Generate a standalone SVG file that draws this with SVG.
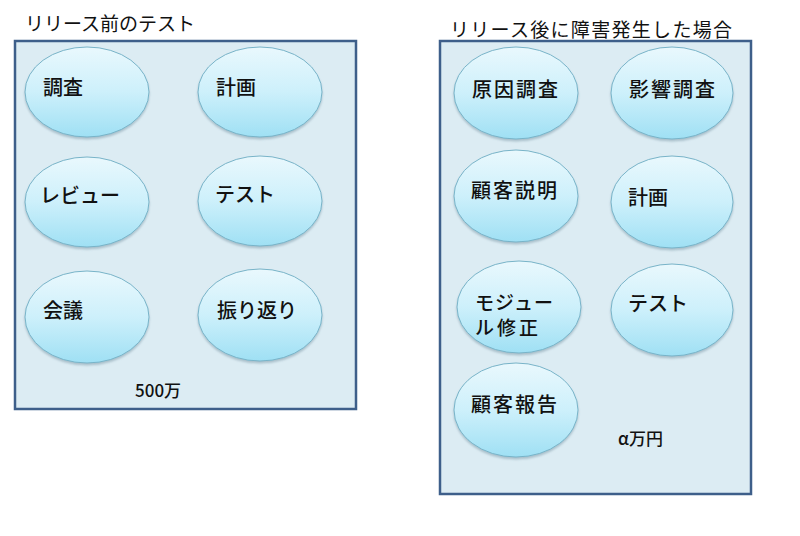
<svg xmlns="http://www.w3.org/2000/svg" width="800" height="536" viewBox="0 0 800 536">
<defs>
<linearGradient id="eg" x1="0" y1="0" x2="0" y2="1">
<stop offset="0" stop-color="#e9f8fd"/>
<stop offset="0.5" stop-color="#cdf0fb"/>
<stop offset="1" stop-color="#9fe0f4"/>
</linearGradient>
<filter id="sh" x="-10%" y="-10%" width="120%" height="130%">
<feDropShadow dx="0" dy="2" stdDeviation="1.2" flood-color="#6a8a99" flood-opacity="0.45"/>
</filter>
</defs>
<style>
.box{fill:#dcecf3;stroke:#3e5f8a;stroke-width:2.5}
.el{fill:url(#eg);stroke:#78b3c8;stroke-width:1;filter:url(#sh)}
text{font-family:"Noto Sans CJK JP","Noto Sans",sans-serif;fill:#111}
.t{font-size:20px;font-weight:500}
.h{font-size:19px}
.c{font-size:17px;font-weight:500}
</style>
<rect width="800" height="536" fill="#ffffff"/>
<g id="left-panel">
<text class="h" x="25" y="31" textLength="170">リリース前のテスト</text>
<rect class="box" x="15" y="41" width="341" height="368"/>
</g>
<g id="right-panel">
<text class="h" x="450" y="37" textLength="282">リリース後に障害発生した場合</text>
<rect class="box" x="440" y="41" width="311" height="453"/>
</g>
<g id="n-chousa"><ellipse class="el" cx="87" cy="92" rx="62" ry="45"/><text class="t" x="43" y="95">調査</text></g>
<g id="n-keikaku"><ellipse class="el" cx="260" cy="92" rx="62" ry="45"/><text class="t" x="216" y="95">計画</text></g>
<g id="n-review"><ellipse class="el" cx="87" cy="202" rx="62" ry="45"/><text class="t" x="40" y="203">レビュー</text></g>
<g id="n-test"><ellipse class="el" cx="260" cy="201" rx="62" ry="45"/><text class="t" x="215" y="202">テスト</text></g>
<g id="n-kaigi"><ellipse class="el" cx="87" cy="317" rx="62" ry="46"/><text class="t" x="43" y="318">会議</text></g>
<g id="n-furikaeri"><ellipse class="el" cx="260" cy="315" rx="62" ry="46"/><text class="t" x="217" y="318">振り返り</text></g>
<g id="l-cost"><text class="c" x="135" y="397">500万</text></g>
<g id="n-genin"><ellipse class="el" cx="516" cy="93" rx="62" ry="46"/><text class="t" x="472" y="97" textLength="86">原因調査</text></g>
<g id="n-eikyou"><ellipse class="el" cx="672" cy="93" rx="61" ry="46"/><text class="t" x="629" y="97" textLength="86">影響調査</text></g>
<g id="n-kokyaku-setsumei"><ellipse class="el" cx="516" cy="196" rx="62" ry="46"/><text class="t" x="471" y="198" textLength="86">顧客説明</text></g>
<g id="n-keikaku2"><ellipse class="el" cx="672" cy="202" rx="61" ry="46"/><text class="t" x="628" y="205">計画</text></g>
<g id="n-module"><ellipse class="el" cx="519" cy="307" rx="62" ry="46"/><text class="t" x="475" y="310" style="font-size:19px" textLength="78">モジュー</text><text class="t" x="475" y="335" style="font-size:19px" textLength="63">ル修正</text></g>
<g id="n-test2"><ellipse class="el" cx="672" cy="310" rx="61" ry="46"/><text class="t" x="628" y="311">テスト</text></g>
<g id="n-kokyaku-houkoku"><ellipse class="el" cx="516" cy="410" rx="62" ry="47"/><text class="t" x="471" y="412" textLength="86">顧客報告</text></g>
<g id="r-cost"><text class="c" x="618" y="445">α万円</text></g>
<g id="connectors"></g>
</svg>
